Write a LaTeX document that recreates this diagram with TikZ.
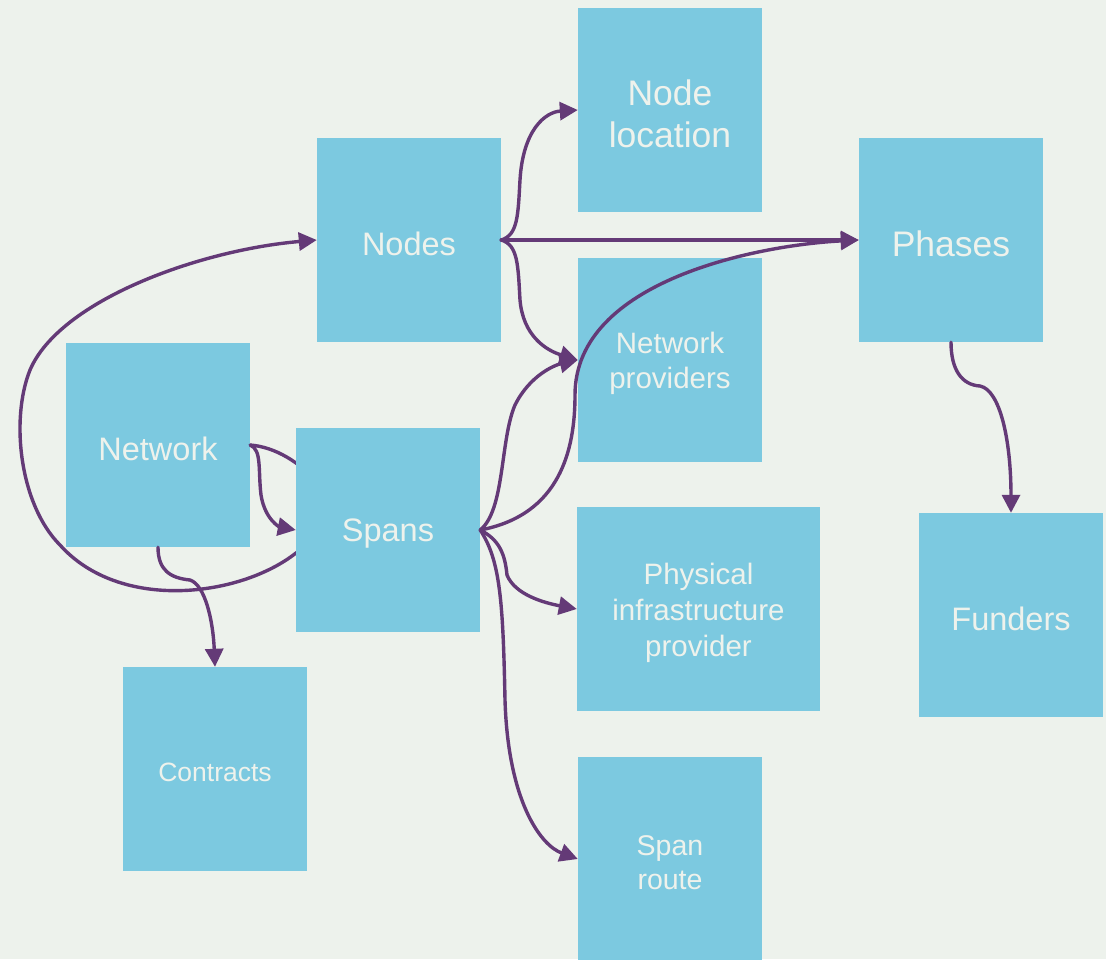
\documentclass[tikz,border=0pt]{standalone}
\usepackage{fontspec}
\setmainfont{Liberation Sans}
\usetikzlibrary{arrows.meta}
\definecolor{bg}{HTML}{EDF2EC}
\definecolor{boxc}{HTML}{7CC9E0}
\definecolor{purp}{HTML}{643A77}
\definecolor{txt}{HTML}{EEF2EC}
\begin{document}
\begin{tikzpicture}[x=1pt,y=-1pt,
  box/.style={fill=boxc, draw=none, minimum width=184pt, minimum height=204pt, inner sep=0pt},
  lbl/.style={text=txt, align=center, inner sep=0pt, yshift=-3.5pt},
  conn/.style={draw=purp, line width=3.4pt, line cap=round, line join=round, -{Triangle[length=18pt,width=18pt]}}]
\fill[bg] (0,0) rectangle (1106,959);
\useasboundingbox (0,0) rectangle (1106,959);
% boxes
\node[box] (nodeloc) at (670,110) {};
\node[box] (nodes) at (409,240) {};
\node[box] (phases) at (951,240) {};
\node[box] (netprov) at (670,360) {};
\node[box] (network) at (158,445) {};
\node[box, minimum width=243pt] (phys) at (698.5,609) {};
\node[box] (funders) at (1011,615) {};
\node[box] (contracts) at (215,769) {};
\node[box] (spanroute) at (670,859) {};
\node[lbl, font=\fontsize{35.5}{42}\selectfont] (nodeloc-t) at (nodeloc.center) {Node\\location};
\node[lbl, font=\fontsize{32.5}{38}\selectfont] (nodes-t) at (nodes.center) {Nodes};
\node[lbl, font=\fontsize{35.5}{42}\selectfont] (phases-t) at (phases.center) {Phases};
\node[lbl, font=\fontsize{29.5}{35}\selectfont] (netprov-t) at (netprov.center) {Network\\providers};
\node[lbl, font=\fontsize{32.5}{38}\selectfont] (network-t) at (network.center) {Network};
\node[lbl, font=\fontsize{29.5}{36}\selectfont] (phys-t) at (phys.center) {Physical\\infrastructure\\provider};
\node[lbl, font=\fontsize{32.5}{38}\selectfont] (funders-t) at (funders.center) {Funders};
\node[lbl, font=\fontsize{26.5}{32}\selectfont] (contracts-t) at (contracts.center) {Contracts};
\node[lbl, font=\fontsize{28.5}{34}\selectfont] (spanroute-t) at (spanroute.center) {Span\\route};
% loop connector (passes behind Spans)
\draw[conn] (network.east) .. controls (275,447) and (300,462) .. (320,485)
  .. controls (340,510) and (330,535) .. (296,553)
  .. controls (240,597) and (120,612) .. (60,545)
  .. controls (20,505) and (10,420) .. (30,370)
  .. controls (60,300) and (200,250) .. (nodes.west);
\node[box] (spans) at (388,530) {};
\node[lbl, font=\fontsize{32.5}{38}\selectfont] (spans-t) at (spans.center) {Spans};
% connectors
\draw[conn] (nodes.east) .. controls (518,235) and (518,215) .. (520,180)
  .. controls (523,130) and (545,112) .. (nodeloc.west);
\draw[conn] (nodes.east) -- (phases.west);
\draw[conn] (nodes.east) .. controls (518,245) and (518,265) .. (520,300)
  .. controls (523,335) and (545,350) .. (netprov.west);
\draw[conn] (spans.east) .. controls (505,510) and (500,440) .. (515,405)
  .. controls (530,375) and (555,365) .. (netprov.west);
\draw[conn] (spans.east) .. controls (560,515) and (575,450) .. (575,395)
  .. controls (575,280) and (760,245) .. (phases.west);
\draw[conn] (spans.east) .. controls (500,540) and (505,555) .. (507,575)
  .. controls (515,595) and (545,603) .. (phys.west);
\draw[conn] (spans.east) .. controls (500,560) and (503,600) .. (505,700)
  .. controls (508,800) and (540,845) .. (spanroute.west);
\draw[conn] (network.east) .. controls (262,450) and (258,470) .. (261,495)
  .. controls (265,520) and (280,527) .. (spans.west);
\draw[conn] (network.south) .. controls (158,570) and (170,578) .. (190,580)
  .. controls (205,585) and (213,620) .. (contracts.north);
\draw[conn] (phases.south) .. controls (951,370) and (962,385) .. (980,386)
  .. controls (1000,390) and (1011,440) .. (funders.north);
\end{tikzpicture}
\end{document}
